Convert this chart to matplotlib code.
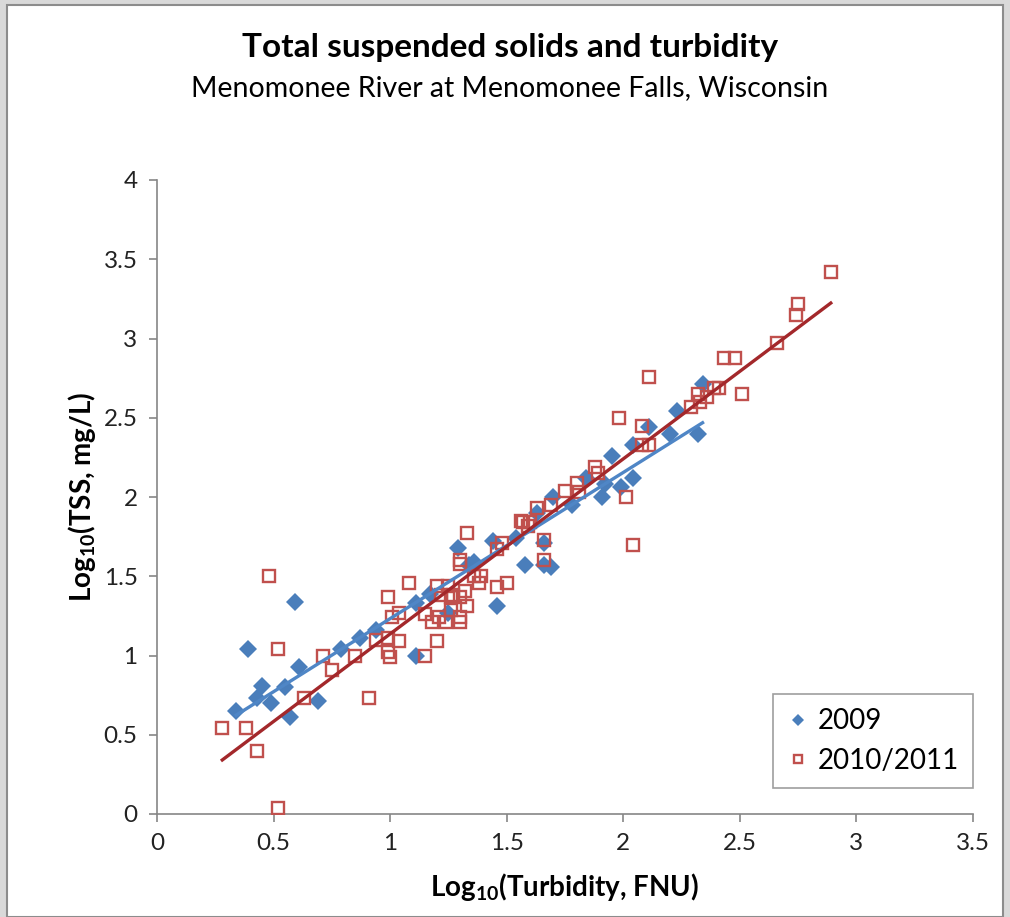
import numpy as np
import matplotlib
matplotlib.use("Agg")
import matplotlib.pyplot as plt
from matplotlib.ticker import FormatStrFormatter, MultipleLocator
from matplotlib.patches import Rectangle

plt.rcParams["font.family"] = ["Lato", "DejaVu Sans"]
plt.rcParams["mathtext.fontset"] = "custom"
plt.rcParams["mathtext.rm"] = "Lato"
plt.rcParams["mathtext.bf"] = "Lato:bold"

# 2009 samples (log10 turbidity, log10 TSS)
turb_2009 = [0.34, 0.39, 0.43, 0.45, 0.49, 0.55, 0.57, 0.59, 0.61, 0.69,
             0.79, 0.87, 0.94, 1.11, 1.11, 1.17, 1.25, 1.29, 1.34, 1.36,
             1.44, 1.46, 1.54, 1.58, 1.63, 1.66, 1.66, 1.69, 1.70, 1.78,
             1.84, 1.91, 1.92, 1.99, 2.04, 1.95, 2.04, 2.11, 2.20, 2.23,
             2.32, 2.34]
tss_2009 = [0.65, 1.04, 0.73, 0.81, 0.70, 0.80, 0.61, 1.34, 0.93, 0.71,
            1.04, 1.11, 1.16, 1.00, 1.33, 1.39, 1.27, 1.68, 1.57, 1.59,
            1.72, 1.31, 1.74, 1.57, 1.90, 1.71, 1.57, 1.56, 2.00, 1.95,
            2.12, 2.00, 2.08, 2.06, 2.12, 2.26, 2.33, 2.44, 2.40, 2.54,
            2.40, 2.71]

# 2010/2011 samples
turb_1011 = [0.28, 0.38, 0.43, 0.48, 0.52, 0.52, 0.63, 0.71, 0.75, 0.85,
             0.91, 0.94, 0.99, 0.99, 0.99, 1.00, 1.01, 1.04, 1.04, 1.08,
             1.15, 1.15, 1.18, 1.20, 1.20, 1.21, 1.22, 1.24, 1.25, 1.26,
             1.26, 1.27, 1.30, 1.30, 1.30, 1.30, 1.30, 1.32, 1.33, 1.33,
             1.36, 1.38, 1.39, 1.46, 1.46, 1.48, 1.50, 1.56, 1.57, 1.59,
             1.60, 1.63, 1.66, 1.66, 1.69, 1.75, 1.80, 1.81, 1.88, 1.89,
             1.98, 2.01, 2.04, 2.08, 2.08, 2.11, 2.11, 2.29, 2.32, 2.33,
             2.36, 2.39, 2.41, 2.43, 2.48, 2.51, 2.66, 2.74, 2.75, 2.89]
tss_1011 = [0.54, 0.54, 0.40, 1.50, 1.04, 0.04, 0.73, 1.00, 0.91, 1.00,
            0.73, 1.10, 1.37, 1.11, 1.02, 0.99, 1.24, 1.27, 1.09, 1.46,
            1.00, 1.26, 1.21, 1.09, 1.44, 1.24, 1.38, 1.21, 1.44, 1.37,
            1.29, 1.38, 1.58, 1.60, 1.37, 1.21, 1.24, 1.41, 1.77, 1.31,
            1.50, 1.46, 1.50, 1.43, 1.67, 1.71, 1.46, 1.85, 1.84, 1.82,
            1.84, 1.93, 1.73, 1.60, 1.95, 2.04, 2.09, 2.03, 2.19, 2.15,
            2.50, 2.00, 1.70, 2.45, 2.33, 2.33, 2.76, 2.57, 2.65, 2.60,
            2.63, 2.69, 2.69, 2.88, 2.88, 2.65, 2.97, 3.15, 3.22, 3.42]

BLUE = "#4a7ebb"
BLUE_LINE = "#4f86c6"
RED = "#c0504d"
RED_LINE = "#a3282b"


def fit_line(x, y):
    x = np.asarray(x)
    slope, intercept = np.polyfit(x, np.asarray(y), 1)
    xs = np.array([x.min(), x.max()])
    return xs, slope * xs + intercept


fig = plt.figure(figsize=(10.1, 9.17), dpi=100, facecolor="#d9d9d9")
fig.patches.append(Rectangle((7 / 1010, 0), 996 / 1010, 1 - 5 / 917,
                             transform=fig.transFigure, facecolor="white",
                             edgecolor="#8c8c8c", linewidth=1.5, zorder=-10))

ax = fig.add_axes([157 / 1010, 1 - 814 / 917, 816 / 1010, 634 / 917])
ax.set_facecolor("none")
ax.set_zorder(5)

ax.plot(turb_2009, tss_2009, linestyle="none", marker="D", ms=9,
        color=BLUE, markeredgewidth=0, label="2009", zorder=3)
ax.plot(turb_1011, tss_1011, linestyle="none", marker="s", ms=8.5,
        markerfacecolor="none", markeredgecolor=RED, markeredgewidth=1.7,
        label="2010/2011", zorder=3)

xs, ys = fit_line(turb_2009, tss_2009)
ax.plot(xs, ys, color=BLUE_LINE, linewidth=2.4, zorder=4)
xs, ys = fit_line(turb_1011, tss_1011)
ax.plot(xs, ys, color=RED_LINE, linewidth=2.4, zorder=4)

ax.set_xlim(0, 3.5)
ax.set_ylim(0, 4)
ax.xaxis.set_major_locator(MultipleLocator(0.5))
ax.yaxis.set_major_locator(MultipleLocator(0.5))
ax.xaxis.set_major_formatter(FormatStrFormatter("%g"))
ax.yaxis.set_major_formatter(FormatStrFormatter("%g"))

for side in ["top", "right"]:
    ax.spines[side].set_visible(False)
for side in ["left", "bottom"]:
    ax.spines[side].set_color("#868686")
    ax.spines[side].set_linewidth(1.2)

ax.tick_params(direction="out", length=6, width=1.2, color="#868686",
               labelsize=17.5, labelcolor="#222222", pad=8)

ax.set_xlabel(r"Log$_\mathbf{10}$(Turbidity, FNU)", fontsize=20,
              fontweight="bold", labelpad=12)
ax.set_ylabel(r"Log$_\mathbf{10}$(TSS, mg/L)", fontsize=20,
              fontweight="bold", labelpad=4)

fig.text(510 / 1010, 1 - 47 / 917, "Total suspended solids and turbidity",
         ha="center", va="center", fontsize=24, fontweight="bold")
fig.text(510 / 1010, 1 - 88 / 917,
         "Menomonee River at Menomonee Falls, Wisconsin",
         ha="center", va="center", fontsize=20.5)

legend = ax.legend(loc="lower right", bbox_to_anchor=(1.0, 26 / 634),
                   borderaxespad=0, fancybox=False, frameon=True,
                   fontsize=20, markerscale=0.65, handletextpad=0.3,
                   labelspacing=0.5, borderpad=0.5, handlelength=0.8)
legend.get_frame().set_edgecolor("#868686")
legend.get_frame().set_linewidth(1.2)

fig.savefig("out.png", dpi=100)
